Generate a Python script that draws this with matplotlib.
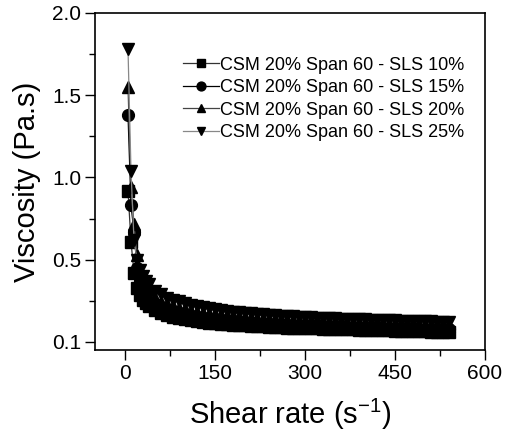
import matplotlib
matplotlib.use("Agg")
import matplotlib.pyplot as plt
from matplotlib.ticker import MultipleLocator

plt.rcParams["font.family"] = ["Liberation Sans", "DejaVu Sans"]
plt.rcParams["mathtext.fontset"] = "custom"
plt.rcParams["mathtext.rm"] = "Liberation Sans"
plt.rcParams["mathtext.it"] = "Liberation Sans"

# shear rate grid (s^-1)
shear = [5, 10, 15, 20, 25, 30, 35, 40, 50, 60, 70, 80, 90, 100, 110, 120, 130, 140,
         150, 160, 170, 180, 190, 200, 210, 220, 230, 240, 250, 260, 270, 280, 290, 300,
         310, 320, 330, 340, 350, 360, 370, 380, 390, 400, 410, 420, 430, 440, 450, 460,
         470, 480, 490, 500, 510, 520, 530, 540]

# viscosity (Pa.s)
sls10 = [0.92, 0.61, 0.42, 0.33, 0.285, 0.255, 0.235, 0.218, 0.192, 0.175, 0.163, 0.153,
         0.145, 0.138, 0.132, 0.127, 0.122, 0.118, 0.114, 0.111, 0.108, 0.105, 0.102, 0.100,
         0.098, 0.096, 0.094, 0.092, 0.090, 0.088, 0.087, 0.086, 0.085, 0.084, 0.083, 0.082,
         0.081, 0.080, 0.079, 0.078, 0.077, 0.076, 0.075, 0.074, 0.073, 0.072, 0.071, 0.070,
         0.069, 0.068, 0.067, 0.066, 0.065, 0.064, 0.063, 0.062, 0.061, 0.060]
sls15 = [1.38, 0.83, 0.67, 0.45, 0.37, 0.32, 0.29, 0.265, 0.23, 0.21, 0.196, 0.185,
         0.175, 0.167, 0.160, 0.154, 0.148, 0.143, 0.139, 0.135, 0.131, 0.128, 0.125, 0.122,
         0.119, 0.117, 0.114, 0.112, 0.110, 0.108, 0.106, 0.105, 0.104, 0.102, 0.101, 0.100,
         0.098, 0.097, 0.096, 0.094, 0.093, 0.092, 0.091, 0.090, 0.089, 0.088, 0.087, 0.086,
         0.085, 0.084, 0.083, 0.082, 0.081, 0.080, 0.080, 0.079, 0.078, 0.077]
sls20 = [1.55, 0.94, 0.72, 0.53, 0.43, 0.38, 0.35, 0.32, 0.265, 0.245, 0.23, 0.218,
         0.208, 0.199, 0.191, 0.184, 0.178, 0.172, 0.167, 0.163, 0.159, 0.155, 0.151, 0.148,
         0.145, 0.142, 0.140, 0.137, 0.135, 0.133, 0.131, 0.129, 0.127, 0.126, 0.125, 0.124,
         0.122, 0.121, 0.119, 0.118, 0.116, 0.115, 0.114, 0.112, 0.111, 0.110, 0.109, 0.108,
         0.107, 0.106, 0.105, 0.104, 0.103, 0.102, 0.101, 0.100, 0.099, 0.098]
sls25 = [1.78, 1.04, 0.62, 0.50, 0.44, 0.40, 0.37, 0.35, 0.31, 0.29, 0.27, 0.258,
         0.247, 0.236, 0.227, 0.219, 0.212, 0.205, 0.199, 0.194, 0.189, 0.185, 0.181, 0.177,
         0.174, 0.171, 0.168, 0.165, 0.163, 0.160, 0.158, 0.156, 0.154, 0.152, 0.150, 0.148,
         0.147, 0.145, 0.144, 0.142, 0.141, 0.139, 0.138, 0.137, 0.136, 0.134, 0.133, 0.132,
         0.131, 0.130, 0.129, 0.128, 0.127, 0.126, 0.125, 0.124, 0.123, 0.122]

labels = ["CSM 20% Span 60 - SLS 10%", "CSM 20% Span 60 - SLS 15%",
          "CSM 20% Span 60 - SLS 20%", "CSM 20% Span 60 - SLS 25%"]
series = [sls10, sls15, sls20, sls25]
markers = ["s", "o", "^", "v"]
line_colors = ["#333333", "black", "#444444", "#888888"]

yticks = [0.0, 0.5, 1.0, 1.5, 2.0]
ytick_labels = ["0.1", "0.5", "1.0", "1.5", "2.0"]
xticks = [0, 150, 300, 450, 600]

fig = plt.figure(figsize=(5.27, 4.33), dpi=100)
ax = fig.add_axes([95 / 527, 83 / 433, 390 / 527, 337 / 433])

for vals, m, c, lab in zip(series, markers, line_colors, labels):
    ax.plot(shear, vals, marker=m, markersize=8.5, color=c, mfc="black", mec="black",
            lw=0.9, label=lab)

ax.set_xlim(-50, 600)
ax.set_ylim(-0.049, 2.0)
ax.set_xticks(xticks)
ax.set_yticks(yticks)
ax.set_yticklabels(ytick_labels)
ax.xaxis.set_minor_locator(MultipleLocator(75))
ax.yaxis.set_minor_locator(MultipleLocator(0.25))
ax.tick_params(which="major", direction="out", length=7, width=1, labelsize=15, pad=3)
ax.tick_params(which="minor", direction="out", length=4, width=1)
for s in ax.spines.values():
    s.set_linewidth(1.2)

ax.set_xlabel("Shear rate (s$^{-1}$)", fontsize=21, labelpad=10)
ax.set_ylabel("Viscosity (Pa.s)", fontsize=21, labelpad=8)

ax.legend(loc="upper left", bbox_to_anchor=(0.226, 0.87), frameon=False, fontsize=13,
          handlelength=2.0, handletextpad=0.05, labelspacing=0.3, borderpad=0,
          borderaxespad=0, markerscale=0.75)

fig.savefig("out.png", dpi=100)
